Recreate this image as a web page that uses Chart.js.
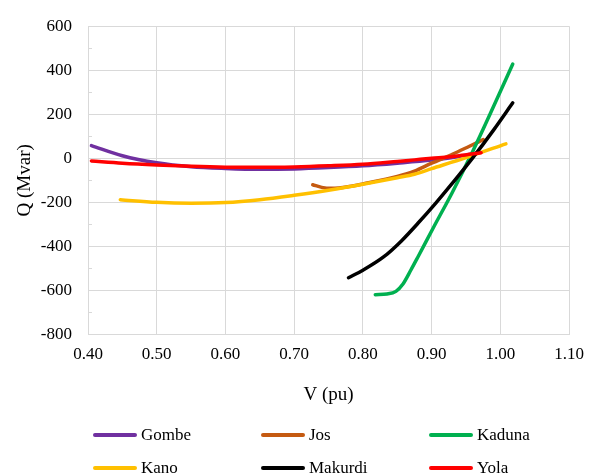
<!DOCTYPE html>
<html>
<head>
<meta charset="utf-8">
<script src="https://cdn.jsdelivr.net/npm/chart.js@4/dist/chart.umd.min.js"></script>
<style>
    body { margin: 0; background: #fff; }
    #wrap { position: relative; width: 594px; height: 476px; }
    #legend { position: absolute; left: 0; top: 0; width: 594px; height: 476px; pointer-events: none;
              font-family: "Liberation Serif", "Times New Roman", serif; font-size: 17px; color: #000; }
    .lg-item { position: absolute; height: 20px; display: flex; align-items: center; }
    .lg-line { display: inline-block; width: 44px; height: 4px; border-radius: 2px; margin-right: 4px; }
</style>
</head>
<body>
<div id="wrap">
    <canvas id="qvChart" width="594" height="476"></canvas>
    <div id="legend"></div>
</div>
<script>
// Q-V curves per bus
const seriesNames = ['Gombe', 'Jos', 'Kaduna', 'Kano', 'Makurdi', 'Yola'];
const seriesColors = ['#7030A0', '#C55A11', '#00B050', '#FFC000', '#000000', '#FF0000'];

const gombeV = [0.405, 0.45, 0.50, 0.55, 0.60, 0.65, 0.70, 0.75, 0.80, 0.85, 0.90, 0.935, 0.967];
const gombeQ = [58, 12, -20, -38, -46, -50, -48, -42, -34, -22, -8, 6, 26];

const josV = [0.727, 0.74, 0.755, 0.78, 0.80, 0.85, 0.875, 0.90, 0.93, 0.955, 0.975];
const josQ = [-120, -132, -136, -128, -116, -82, -58, -22, 18, 55, 85];

const kadunaV = [0.818, 0.835, 0.848, 0.858, 0.87, 0.88, 0.903, 0.93, 0.96, 0.99, 1.018];
const kadunaQ = [-619, -616, -604, -572, -506, -448, -312, -155, 33, 235, 428];

const kanoV = [0.447, 0.50, 0.55, 0.60, 0.65, 0.70, 0.75, 0.80, 0.85, 0.875, 0.90, 0.95, 1.008];
const kanoQ = [-188, -200, -204, -201, -188, -168, -145, -118, -88, -72, -47, 3, 66];

const makurdiV = [0.779, 0.80, 0.83, 0.856, 0.88, 0.906, 0.932, 0.96, 0.99, 1.018];
const makurdiQ = [-542, -508, -448, -375, -295, -203, -106, 3, 128, 252];

const yolaV = [0.405, 0.45, 0.50, 0.55, 0.60, 0.65, 0.70, 0.75, 0.80, 0.85, 0.875, 0.90, 0.94, 0.972];
const yolaQ = [-12, -22, -30, -36, -40, -41, -39, -34, -27, -14, -7, 0, 12, 25];

// axis settings
const xMin = 0.40, xMax = 1.10, xStep = 0.10;
const yMin = -800, yMax = 600, yStep = 200;
const yMinorTicks = [-700, -500, -300, -100, 100, 300, 500];

const seriesV = [gombeV, josV, kadunaV, kanoV, makurdiV, yolaV];
const seriesQ = [gombeQ, josQ, kadunaQ, kanoQ, makurdiQ, yolaQ];

const serif = '"Liberation Serif", "Times New Roman", serif';
Chart.defaults.font.family = serif;
Chart.defaults.color = '#000';

/**
 * Build scatter datasets from the arrays
 */
function buildDatasets() {
    return seriesNames.map((name, i) => ({
        label: name,
        data: seriesV[i].map((v, k) => ({ x: v, y: seriesQ[i][k] })),
        borderColor: seriesColors[i],
        backgroundColor: seriesColors[i],
        borderWidth: 3.5,
        showLine: true,
        pointRadius: 0,
        cubicInterpolationMode: 'monotone',
        borderCapStyle: 'round',
        // Excel draws later series on top
        order: seriesNames.length - i
    }));
}

// small inside tick marks on the value axis
const minorTicksPlugin = {
    id: 'minorTicks',
    beforeDatasetsDraw(chart) {
        const { ctx, chartArea, scales } = chart;
        ctx.save();
        ctx.strokeStyle = '#D9D9D9';
        ctx.lineWidth = 1;
        yMinorTicks.forEach(v => {
            const y = Math.round(scales.y.getPixelForValue(v)) + 0.5;
            ctx.beginPath();
            ctx.moveTo(chartArea.left, y);
            ctx.lineTo(chartArea.left + 4, y);
            ctx.stroke();
        });
        ctx.restore();
    }
};

/**
 * HTML legend, 3 columns x 2 rows
 */
function buildLegend() {
    const legend = document.getElementById('legend');
    const colX = [93, 261, 429];
    const rowY = [425, 458];
    legend.innerHTML = seriesNames.map((name, i) => `
        <div class="lg-item" style="left:${colX[i % 3]}px; top:${rowY[Math.floor(i / 3)]}px;">
            <span class="lg-line" style="background:${seriesColors[i]}"></span>${name}
        </div>
    `).join('');
}

new Chart(document.getElementById('qvChart'), {
    type: 'scatter',
    data: { datasets: buildDatasets() },
    plugins: [minorTicksPlugin],
    options: {
        responsive: false,
        animation: false,
        devicePixelRatio: 1,
        layout: { padding: { top: 22, right: 16, left: 0, bottom: 69.5 } },
        plugins: {
            legend: { display: false },
            tooltip: { enabled: false }
        },
        scales: {
            x: {
                type: 'linear',
                min: xMin,
                max: xMax,
                ticks: {
                    stepSize: xStep,
                    padding: 10,
                    color: '#000',
                    font: { family: serif, size: 17 },
                    callback: v => v.toFixed(2)
                },
                grid: { color: '#D9D9D9', drawTicks: false },
                border: { color: '#D9D9D9' },
                title: {
                    display: true,
                    text: 'V (pu)',
                    color: '#000',
                    font: { family: serif, size: 19 },
                    padding: { top: 0, bottom: 0 }
                },
                afterFit: scale => { scale.height = 72; }
            },
            y: {
                min: yMin,
                max: yMax,
                ticks: {
                    stepSize: yStep,
                    padding: 16,
                    color: '#000',
                    font: { family: serif, size: 17 }
                },
                grid: { color: '#D9D9D9', drawTicks: false },
                border: { color: '#D9D9D9' },
                title: {
                    display: true,
                    text: 'Q (Mvar)',
                    color: '#000',
                    font: { family: serif, size: 19 },
                    padding: { top: 14, bottom: 0 }
                },
                afterFit: scale => { scale.width = 88; }
            }
        }
    }
});

buildLegend();
</script>
</body>
</html>
